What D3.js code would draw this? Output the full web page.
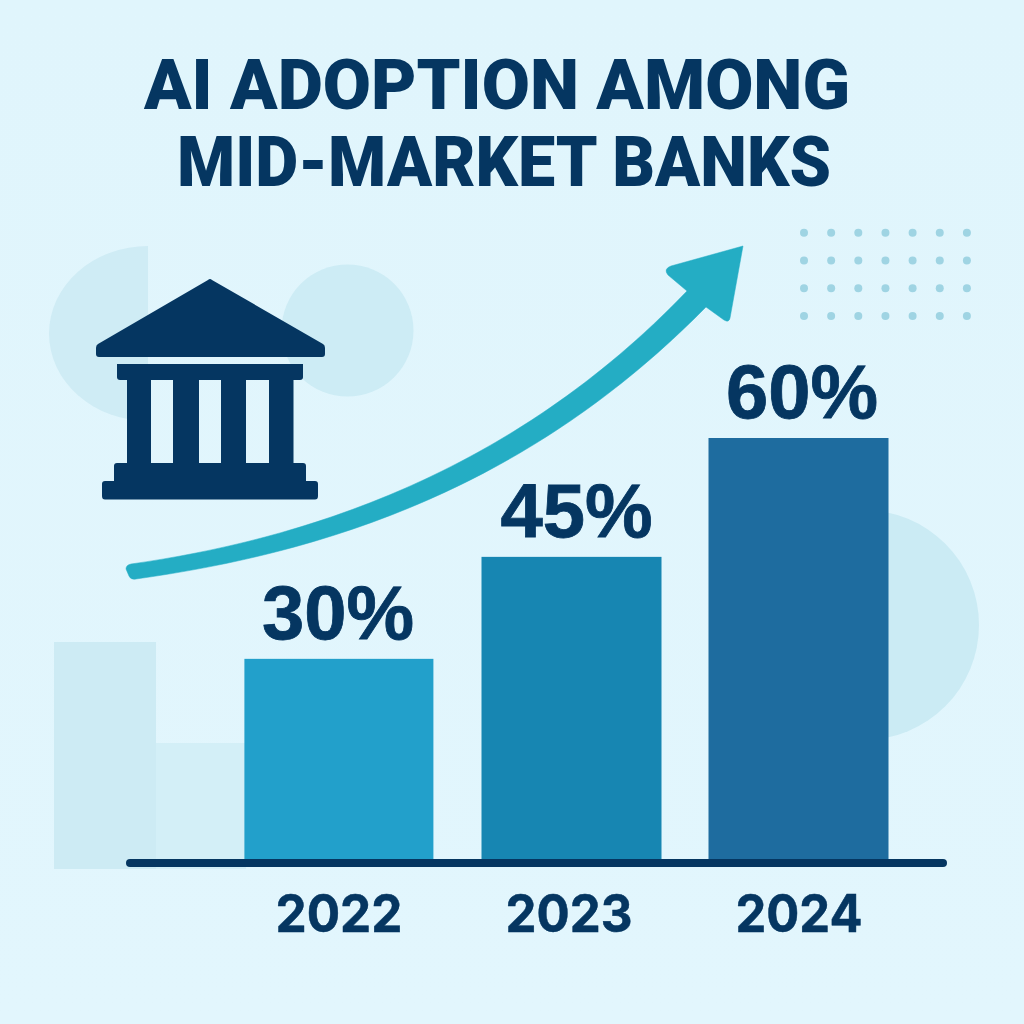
<!DOCTYPE html>
<html><head><meta charset="utf-8"><style>html,body{margin:0;padding:0;background:#e2f5fc}svg{display:block}</style>
<script src="https://cdn.jsdelivr.net/npm/d3@7"></script></head><body>
<script>
// data
const years=["2022","2023","2024"];
const adoption=[30,45,60];          // printed labels
const barValues=[28.6,43.1,60];     // heights as drawn in the picture
const barColors=["#22a0cb","#1786b2","#1e6c9f"];
const titleLines=["AI ADOPTION AMONG","MID-MARKET BANKS"];

// layout
const NAVY="#053661",TEAL="#24adc4";
const W=1024,H=1024;
const svg=d3.select("body").append("svg").attr("width",W).attr("height",H);
const defs=svg.append("defs");
const bg=defs.append("linearGradient").attr("id","bg").attr("x1",0).attr("y1",0).attr("x2",0).attr("y2",1);
bg.append("stop").attr("offset",0).attr("stop-color","#e0f5fc");
bg.append("stop").attr("offset",1).attr("stop-color","#e2f6fd");
svg.append("rect").attr("width",W).attr("height",H).attr("fill","url(#bg)");

// background decoration
const deco=svg.append("g");
deco.append("path").attr("d","M148 246 A 99 87.5 0 1 0 148 421 Z").attr("fill","#cfecf5");
deco.append("circle").attr("cx",347.5).attr("cy",330.5).attr("r",66).attr("fill","#cdecf5");
deco.append("circle").attr("cx",864).attr("cy",625).attr("r",115).attr("fill","#cbebf4");
deco.append("rect").attr("x",54).attr("y",642).attr("width",102).attr("height",227).attr("fill","#cdebf4");
deco.append("rect").attr("x",156).attr("y",743).attr("width",90).attr("height",126).attr("fill","#d3eff7");
d3.range(4).forEach(r=>d3.range(7).forEach(c=>
  deco.append("circle").attr("cx",804+c*27.15).attr("cy",232.7+r*27.8).attr("r",4).attr("fill","#9fd4e3")));

// scales
const x=d3.scaleBand().domain(years).range([224,914]).paddingInner(0.2).paddingOuter(0.1);
const y=d3.scaleLinear().domain([0,60]).range([860,438]);
const barNudge=[[-2.6,5],[4.5,-4],[1.5,-4]];
const labelDx=[-1,7.5,3];

// growth arrow
svg.append("path").attr("fill",TEAL).attr("stroke",TEAL).attr("stroke-width",0.5)
 .attr("d","M126 569 Q 126 565 131 564 C 300 540 510 476 687 291 L 668 275 Q 663 269 671 266 L 743 246 L 730 318 Q 729 323 724 320 L 706 307 C 530 486 330 552 136 579 Q 131 580 129 576 Z");

// bars and value labels
const bandW=x.bandwidth();
const rows=years.map((yr,i)=>({yr,i,v:barValues[i],a:adoption[i]}));
svg.append("g").selectAll("rect").data(rows).join("rect")
  .attr("x",d=>x(d.yr)+barNudge[d.i][0]).attr("width",d=>bandW+barNudge[d.i][1])
  .attr("y",d=>y(d.v)).attr("height",d=>y(0)-y(d.v)).attr("fill",d=>barColors[d.i]);
svg.append("g").selectAll("text").data(rows).join("text")
  .attr("x",d=>x(d.yr)+bandW/2+labelDx[d.i]).attr("y",d=>y(d.v)-20).attr("text-anchor","middle")
  .attr("font-family","'Liberation Sans', Arial, sans-serif").attr("font-weight",700).attr("font-size",76)
  .attr("stroke",NAVY).attr("stroke-width",0.8).attr("fill",NAVY).text(d=>d.a+"%");

// x axis
const axis=svg.append("g").attr("transform","translate(0,863)").call(d3.axisBottom(x).tickSize(0));
axis.select(".domain").remove();
axis.selectAll("text").attr("y",69).attr("dy",0).attr("textLength",127).attr("lengthAdjust","spacingAndGlyphs")
  .attr("font-family","Inter, Roboto, sans-serif").attr("font-weight",700).attr("font-size",52).attr("fill",NAVY)
  .attr("stroke",NAVY).attr("stroke-width",0.5);
svg.append("line").attr("x1",130).attr("x2",943).attr("y1",863).attr("y2",863)
  .attr("stroke",NAVY).attr("stroke-width",8).attr("stroke-linecap","round");

// title
svg.append("g").selectAll("text").data(titleLines).join("text")
  .attr("x",(d,i)=>[144,177][i]).attr("y",(d,i)=>[109,186][i])
  .attr("textLength",(d,i)=>[706,654][i]).attr("lengthAdjust","spacingAndGlyphs")
  .attr("font-family","Roboto, sans-serif").attr("font-weight",900).attr("font-size",70)
  .attr("fill",NAVY).text(d=>d);

// bank icon
const b=svg.append("g").attr("fill",NAVY);
b.append("path").attr("d","M208 280 Q 210 278 212 280 L 323 344 Q 325 345 325 348 L 325 354 Q 325 357 322 357 L 99 357 Q 96 357 96 354 L 96 348 Q 96 345 98 344 Z");
b.append("path").attr("d","M117 364 L 303 364 L 303 377 Q 303 380 300 380 L 120 380 Q 117 380 117 377 Z");
[[127,24],[173,26],[221,25],[269,24.5]].forEach(([px,w])=>b.append("rect").attr("x",px).attr("y",379).attr("width",w).attr("height",85));
b.append("path").attr("d","M117 463 L 303 463 Q 306 463 306 466 L 306 481 L 315 481 Q 318 481 318 484 L 318 496 Q 318 499.5 315 499.5 L 105 499.5 Q 102 499.5 102 496 L 102 484 Q 102 481 105 481 L 114 481 L 114 466 Q 114 463 117 463 Z");
</script></body></html>
